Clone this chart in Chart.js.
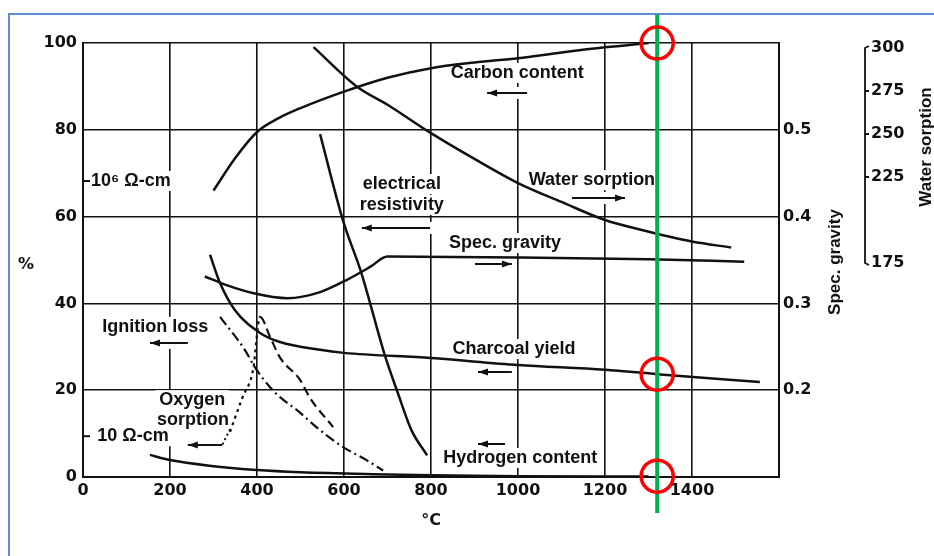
<!DOCTYPE html>
<html>
<head>
<meta charset="utf-8">
<script src="https://cdn.jsdelivr.net/npm/chart.js@4.4.1/dist/chart.umd.min.js"></script>
<style>
  html, body { margin: 0; padding: 0; background: #fff; }
  #wrap { position: relative; width: 934px; height: 556px; overflow: hidden; }
  #frame { position: absolute; left: 8px; top: 13px; width: 1000px; height: 1000px; border: 2px solid #5b8ed6; }
  canvas { position: absolute; left: 0; top: 0; }
</style>
</head>
<body>
<div id="wrap"><div id="frame"></div><canvas id="chart" width="934" height="556"></canvas></div>
<script>
// Axis ticks
const tempTicks = [0, 200, 400, 600, 800, 1000, 1200, 1400];
const pctTicks = [0, 20, 40, 60, 80, 100];
const gravityTicks = [0.2, 0.3, 0.4, 0.5];
const waterTicks = [175, 225, 250, 275, 300];
const waterAxisMin = 50.6;
const waterAxisMax = 302.9;

// Curves (temperature in °C)
const carbonT = [300, 350, 400, 450, 500, 600, 700, 800, 900, 1000, 1100, 1200, 1300];
const carbonPct = [66, 73.5, 79.5, 82.7, 85, 88.8, 92, 94.2, 95.5, 96.5, 97.8, 99, 100];

const waterT = [530, 630, 700, 800, 900, 1000, 1100, 1200, 1280, 1400, 1490];
const waterVal = [300.5, 277.5, 267, 250.5, 235.5, 221.5, 210.5, 200, 194.5, 187.5, 184];

const resistT = [545, 598, 640, 694, 725, 755, 791];
const resistPct = [79, 59, 47, 28, 19, 10.8, 5];

const gravityT = [280, 330, 390, 470, 545, 610, 660, 700, 1000, 1300, 1520];
const gravityVal = [0.331, 0.321, 0.312, 0.306, 0.313, 0.328, 0.342, 0.354, 0.353, 0.351, 0.348];

const yieldT = [292, 315, 349, 407, 453, 545, 600, 800, 1000, 1200, 1320, 1556];
const yieldPct = [51.2, 44.7, 38.5, 33.2, 31.1, 29.3, 28.6, 27.4, 25.8, 24.7, 23.7, 21.9];

const ignitionT = [315, 372, 395, 430, 453, 492, 545, 598, 650, 690];
const ignitionPct = [36.9, 29.3, 25.3, 20.7, 18.4, 15.4, 10.8, 6.9, 4, 1.5];

const oxygenT = [338, 366, 391, 407, 430, 453, 499, 522, 575];
const oxygenPct = [10.4, 18.2, 24.7, 36.9, 32.3, 27.5, 22.4, 18.2, 11.5];

const hydrogenT = [154, 200, 300, 400, 500, 700, 800, 1000, 1300];
const hydrogenPct = [5.1, 3.9, 2.5, 1.6, 1.1, 0.6, 0.4, 0.2, 0.1];

// Highlight added on top of the figure
const markT = 1320;
const markLinePct = [106.5, -8.3];
const markCirclePct = [100, 23.7, 0.2];

// Labels and arrows inside the plot
const noteText = ['Carbon content', 'electrical', 'resistivity', 'Water sorption', 'Spec. gravity', 'Ignition loss',
  'Oxygen', 'sorption', '10⁶ Ω-cm', '10 Ω-cm', 'Charcoal yield', 'Hydrogen content'];
const noteT = [998, 733, 733, 1170, 970, 166, 251, 253, 110, 115, 991, 1005];
const notePct = [93.1, 67.5, 62.7, 68.4, 53.9, 34.6, 17.7, 13.1, 68.2, 9.4, 29.5, 4.4];

const arrowFrom = [1021, 798, 1124, 901, 241, 986, 970, 320];
const arrowTo = [929, 641, 1246, 986, 154, 908, 908, 241];
const arrowPct = [88.5, 57.4, 64.3, 49.1, 30.9, 24.2, 7.6, 7.4];
const resistMarkPct = [68.2, 9.4];

const ink = '#111';
const tickFont = { family: 'DejaVu Sans', size: 16, weight: 'bold' };
const noteFont = 'bold 18px "Liberation Sans"';
const titleFont = 'bold 17px "Liberation Sans"';

function points(xs, ys) {
    return xs.map((v, i) => ({ x: v, y: ys[i] }));
}

function curve(data, axis, extra) {
    return Object.assign({
        data: data, yAxisID: axis, showLine: true, borderColor: ink, borderWidth: 2.5,
        pointRadius: 0, cubicInterpolationMode: 'monotone', fill: false
    }, extra || {});
}

function drawArrow(ctx, x1, x2, yy) {
    ctx.beginPath();
    ctx.moveTo(x1, yy);
    ctx.lineTo(x2, yy);
    ctx.stroke();
    const d = Math.sign(x2 - x1);
    ctx.beginPath();
    ctx.moveTo(x2, yy);
    ctx.lineTo(x2 - d * 10, yy - 3.5);
    ctx.lineTo(x2 - d * 10, yy + 3.5);
    ctx.closePath();
    ctx.fill();
}

// Labels, arrows, water sorption bracket and axis titles
const figureNotes = {
    id: 'figureNotes',
    beforeDatasetsDraw(chart) {
        const { ctx, scales: { x, y } } = chart;
        ctx.save();
        ctx.font = noteFont;
        ctx.fillStyle = '#fff';
        noteText.forEach((t, i) => {
            const w = ctx.measureText(t).width;
            ctx.fillRect(x.getPixelForValue(noteT[i]) - w / 2 - 4, y.getPixelForValue(notePct[i]) - 10, w + 8, 20);
        });
        arrowFrom.forEach((a, i) => {
            const x1 = x.getPixelForValue(a), x2 = x.getPixelForValue(arrowTo[i]);
            ctx.fillRect(Math.min(x1, x2) - 3, y.getPixelForValue(arrowPct[i]) - 6, Math.abs(x2 - x1) + 6, 12);
        });
        ctx.restore();
    },
    afterDatasetsDraw(chart) {
        const { ctx, chartArea: area, scales: { x, y, ySG, yW } } = chart;
        ctx.save();
        ctx.fillStyle = ink;
        ctx.strokeStyle = ink;
        ctx.font = noteFont;
        ctx.textAlign = 'center';
        ctx.textBaseline = 'middle';
        noteText.forEach((t, i) => ctx.fillText(t, x.getPixelForValue(noteT[i]), y.getPixelForValue(notePct[i])));

        ctx.lineWidth = 2;
        arrowFrom.forEach((a, i) => drawArrow(ctx, x.getPixelForValue(a), x.getPixelForValue(arrowTo[i]), y.getPixelForValue(arrowPct[i])));

        // dotted hook of the oxygen sorption arrow
        ctx.setLineDash([2, 3]);
        ctx.beginPath();
        ctx.moveTo(x.getPixelForValue(338), y.getPixelForValue(11));
        ctx.lineTo(x.getPixelForValue(320), y.getPixelForValue(7.4));
        ctx.stroke();
        ctx.setLineDash([]);

        // resistivity marks on the left edge
        resistMarkPct.forEach(p => {
            const py = y.getPixelForValue(p);
            ctx.beginPath();
            ctx.moveTo(area.left, py);
            ctx.lineTo(area.left + 7, py);
            ctx.stroke();
        });

        // water sorption bracket
        const wx = yW.left;
        const top = yW.getPixelForValue(waterTicks[waterTicks.length - 1]);
        const bot = yW.getPixelForValue(waterTicks[0]);
        ctx.lineWidth = 1.8;
        ctx.beginPath();
        ctx.moveTo(wx + 4, top - 2);
        ctx.lineTo(wx, top);
        ctx.lineTo(wx, bot);
        ctx.lineTo(wx + 4, bot + 2);
        waterTicks.slice(1, -1).forEach(v => {
            const py = yW.getPixelForValue(v);
            ctx.moveTo(wx, py);
            ctx.lineTo(wx + 4, py);
        });
        ctx.stroke();

        // axis titles
        ctx.font = 'bold 16px "DejaVu Sans"';
        ctx.fillText('%', area.left - 57, (area.top + area.bottom) / 2 + 5);
        ctx.fillText('°C', x.getPixelForValue(800), area.bottom + 44);
        ctx.font = titleFont;
        [['Spec. gravity', ySG.left + 56, 262], ['Water sorption', yW.left + 61, 147]].forEach(([t, tx, ty]) => {
            ctx.save();
            ctx.translate(tx, ty);
            ctx.rotate(-Math.PI / 2);
            ctx.fillText(t, 0, 0);
            ctx.restore();
        });
        ctx.restore();
    }
};

const ctx = document.getElementById('chart').getContext('2d');
new Chart(ctx, {
    type: 'scatter',
    data: {
        datasets: [
            { data: points(markCirclePct.map(() => markT), markCirclePct), yAxisID: 'y', pointRadius: 16, pointBorderWidth: 3.5,
              pointBorderColor: '#ff0000', pointBackgroundColor: 'rgba(0,0,0,0)', showLine: false, clip: false },
            { data: points([markT, markT], markLinePct), yAxisID: 'y', showLine: true, borderColor: '#00b050', borderWidth: 4,
              pointRadius: 0, clip: false },
            curve(points(carbonT, carbonPct), 'y'),
            curve(points(waterT, waterVal), 'yW'),
            curve(points(resistT, resistPct), 'y'),
            curve(points(gravityT, gravityVal), 'ySG'),
            curve(points(yieldT, yieldPct), 'y'),
            curve(points(ignitionT, ignitionPct), 'y', { borderWidth: 2.2, borderDash: [10, 4, 2, 4] }),
            curve(points(oxygenT, oxygenPct), 'y', { borderWidth: 2.2,
              segment: { borderDash: c => c.p0DataIndex < 3 ? [3, 4] : [9, 5] } }),
            curve(points(hydrogenT, hydrogenPct), 'y')
        ]
    },
    options: {
        responsive: false,
        animation: false,
        devicePixelRatio: 1,
        events: [],
        layout: { padding: { top: 43, left: 0, right: 0, bottom: 0 } },
        plugins: { legend: { display: false }, tooltip: { enabled: false } },
        scales: {
            x: {
                type: 'linear', position: 'bottom', min: 0, max: 1600,
                afterFit: s => { s.height = 79; },
                ticks: { stepSize: 200, padding: 4, color: ink, font: tickFont, maxRotation: 0, autoSkip: false,
                         callback: v => tempTicks.includes(v) ? String(v) : '' },
                grid: { color: ink, lineWidth: 1.6, drawTicks: false },
                border: { color: ink, width: 2 }
            },
            y: {
                position: 'left', min: 0, max: 100,
                afterFit: s => { s.width = 83; },
                afterBuildTicks: s => { s.ticks = pctTicks.map(v => ({ value: v })); },
                ticks: { padding: 6, color: ink, font: tickFont },
                grid: { color: ink, lineWidth: 1.6, drawTicks: false },
                border: { color: ink, width: 2 }
            },
            ySG: {
                position: 'right', min: 0.1, max: 0.6, weight: 0,
                afterFit: s => { s.width = 86; },
                afterBuildTicks: s => { s.ticks = gravityTicks.map(v => ({ value: v })); },
                ticks: { padding: 4, color: ink, font: tickFont, callback: v => v.toFixed(1) },
                grid: { display: false, drawTicks: false },
                border: { color: ink, width: 2 }
            },
            yW: {
                position: 'right', min: waterAxisMin, max: waterAxisMax, weight: 1,
                afterFit: s => { s.width = 69; },
                afterBuildTicks: s => { s.ticks = waterTicks.map(v => ({ value: v })); },
                ticks: { padding: 6, color: ink, font: tickFont },
                grid: { display: false, drawTicks: false },
                border: { display: false }
            }
        }
    },
    plugins: [figureNotes]
});
</script>
</body>
</html>
